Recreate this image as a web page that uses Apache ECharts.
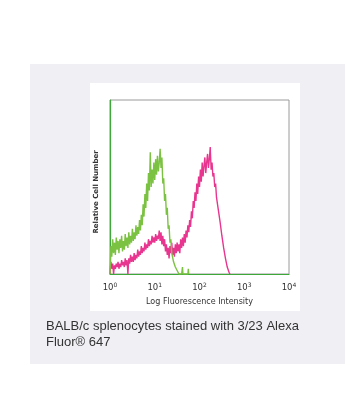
<!DOCTYPE html>
<html>
<head>
<meta charset="utf-8">
<script src="https://cdn.jsdelivr.net/npm/echarts@6/dist/echarts.min.js"></script>
<style>
html,body{margin:0;padding:0;background:#fff;}
#c{width:363px;height:414px;}
</style>
</head>
<body>
<div id="c"></div>
<script>
// x values are decade exponents of fluorescence intensity (10^x)
const decadeTicks = [0, 1, 2, 3, 4];
const xTitle = 'Log Fluorescence Intensity';
const yTitle = 'Relative Cell Number';
const caption1 = 'BALB/c splenocytes stained with 3/23 Alexa';
const caption2 = 'Fluor\u00AE 647';

const controlX = [0.00,0.02,0.04,0.06,0.08,0.10,0.12,0.14,0.16,0.18,0.20,0.22,0.24,0.26,0.28,0.30,0.32,0.34,0.36,0.38,0.40,0.42,0.44,0.46,0.48,0.50,0.52,0.54,0.56,0.58,0.60,0.62,0.64,0.66,0.68,0.70,0.72,0.74,0.76,0.78,0.80,0.82,0.84,0.86,0.88,0.90,0.92,0.94,0.96,0.98,1.00,1.02,1.04,1.06,1.08,1.10,1.12,1.14,1.16,1.18,1.20,1.22,1.24,1.26,1.28,1.30,1.32,1.34,1.36,1.38,1.40,1.42,1.44,1.46,1.48,1.50,1.52,1.54,1.60,1.62,1.63,1.74,1.75,1.76];
const controlY = [0,16,10,20,12,18,11,21,14,19,12,20,15,22,13,19,14,23,16,21,15,24,17,22,18,26,19,24,20,28,22,27,23,31,25,34,28,40,33,46,38,52,42,58,48,70,50,60,52,64,54,66,57,68,59,64,72,61,67,52,55,42,46,34,38,26,28,18,20,12,13,7,8,4,5,2,1,0,0,4,0,0,3,0];

const stainedX = [0.00,0.02,0.04,0.06,0.08,0.10,0.12,0.14,0.16,0.18,0.20,0.22,0.24,0.26,0.28,0.30,0.32,0.34,0.36,0.38,0.40,0.42,0.44,0.46,0.48,0.50,0.52,0.54,0.56,0.58,0.60,0.62,0.64,0.66,0.68,0.70,0.72,0.74,0.76,0.78,0.80,0.82,0.84,0.86,0.88,0.90,0.92,0.94,0.96,0.98,1.00,1.02,1.04,1.06,1.08,1.10,1.12,1.14,1.16,1.18,1.20,1.22,1.24,1.26,1.28,1.30,1.32,1.34,1.36,1.38,1.40,1.42,1.44,1.46,1.48,1.50,1.52,1.54,1.56,1.58,1.60,1.62,1.64,1.66,1.68,1.70,1.72,1.74,1.76,1.78,1.80,1.82,1.84,1.86,1.88,1.90,1.92,1.94,1.96,1.98,2.00,2.02,2.04,2.06,2.08,2.10,2.12,2.14,2.16,2.18,2.20,2.22,2.24,2.26,2.28,2.30,2.32,2.34,2.36,2.38,2.40,2.42,2.44,2.46,2.48,2.50,2.52,2.54,2.56,2.58,2.60,2.62,2.64,2.66,2.68];
const stainedY = [0,7,3,6,0,5,3,6,4,7,3,6,4,8,5,7,4,9,5,8,0,9,6,11,7,10,7,12,8,11,9,14,10,13,11,16,12,15,13,18,14,17,15,20,16,19,17,22,18,21,18,23,19,22,20,25,19,24,17,22,16,20,13,17,11,15,9,16,12,18,11,15,10,17,12,18,13,17,12,20,15,21,16,23,18,25,21,28,24,31,27,36,32,42,38,47,42,52,46,56,50,60,53,64,56,62,67,58,64,69,61,66,73,60,64,56,58,50,52,44,45,37,36,30,29,22,21,15,14,9,8,4,3,1,0];

const pair = (xs, ys) => xs.map((x, i) => [x, ys[i]]);

const chart = echarts.init(document.getElementById('c'), null, {renderer: 'canvas'});
const txt = '#333';
chart.setOption({
  animation: false,
  backgroundColor: '#ffffff',
  graphic: [
    {type: 'rect', z: -10, shape: {x: 30, y: 64, width: 315, height: 300}, style: {fill: '#f0eff4'}},
    {type: 'rect', z: -9, shape: {x: 90, y: 83, width: 210, height: 228}, style: {fill: '#ffffff'}},
    {type: 'text', x: 96, y: 192, rotation: Math.PI / 2, style: {text: yTitle, align: 'center', verticalAlign: 'middle', font: 'bold 7px "DejaVu Sans"', fill: txt}},
    {type: 'text', left: 46, top: 320, style: {text: caption1, font: '13px "Liberation Sans", Arial, sans-serif', fill: txt}},
    {type: 'text', left: 46, top: 336, style: {text: caption2, font: '13px "Liberation Sans", Arial, sans-serif', fill: txt}}
  ],
  grid: {left: 110, right: 74, top: 100, bottom: 140, show: true, borderColor: '#9a9a9a', borderWidth: 1, backgroundColor: 'transparent'},
  xAxis: {
    type: 'value', min: 0, max: 4, interval: 1,
    name: xTitle, nameLocation: 'middle', nameGap: 24,
    nameTextStyle: {fontSize: 8, color: txt, fontFamily: 'DejaVu Sans'},
    axisLine: {show: true, lineStyle: {color: '#3ea83a', width: 1.2}},
    axisTick: {show: false},
    splitLine: {show: false},
    axisLabel: {
      margin: 8, color: txt,
      formatter: v => '{b|10}{s|' + v + '}',
      rich: {
        b: {fontSize: 8.5, fontFamily: 'DejaVu Sans', color: txt},
        s: {fontSize: 6, fontFamily: 'DejaVu Sans', color: txt, verticalAlign: 'bottom', padding: [0, 0, 6, 0]}
      }
    }
  },
  yAxis: {
    type: 'value', min: 0, max: 100,
    axisLine: {show: true, lineStyle: {color: '#3ea83a', width: 1.2}},
    axisTick: {show: false},
    axisLabel: {show: false},
    splitLine: {show: false}
  },
  series: [
    {type: 'line', data: pair(controlX, controlY), showSymbol: false, lineStyle: {color: '#7cc242', width: 1.4}, z: 3},
    {type: 'line', data: pair(stainedX, stainedY), showSymbol: false, lineStyle: {color: '#e8358f', width: 1.4}, z: 2}
  ]
});
</script>
</body>
</html>
